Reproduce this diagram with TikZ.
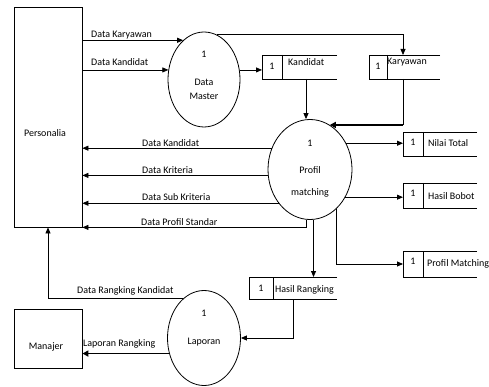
\documentclass[tikz,border=0pt]{standalone}
\usepackage{fontspec}
\setmainfont{Carlito}
\usetikzlibrary{shapes.geometric,arrows.meta}
\tikzset{
  ln/.style={line width=0.8pt},
  arr/.style={ln,-{Triangle[length=6pt,width=5pt]}},
  thickarr/.style={line width=1.5pt,-{Triangle[length=6pt,width=6pt]}},
  proc/.style={ellipse, draw, line width=0.8pt, inner sep=0},
  ent/.style={rectangle, draw, line width=0.8pt, inner sep=0},
  lbl/.style={font=\fontsize{10}{12}\selectfont, inner sep=0},
}
\newcommand{\dstore}[7]{%
  \coordinate (#1-nw) at (#2,#3);
  \coordinate (#1-sw) at (#2,#5);
  \coordinate (#1-ne) at (#4,#3);
  \coordinate (#1-se) at (#4,#5);
  \coordinate (#1-dt) at (#6,#3);
  \coordinate (#1-db) at (#6,#5);
  \coordinate (#1-w) at (#2,{(#3+#5)/2});
  \draw[ln] (#1-ne) -- (#1-nw) -- (#1-sw) -- (#1-se) (#1-dt) -- (#1-db);
  \node[lbl] (#1-n) at ({(#2+#6)/2},#7) {1};
}
\begin{document}
\begin{tikzpicture}[x=1pt,y=-1pt]
\useasboundingbox (0,0) rectangle (489,387);

% external entities
\node[ent, minimum width=68, minimum height=220] (per) at (48,117) {};
\node[lbl] (perl) at (45,133) {Personalia};
\node[ent, minimum width=68, minimum height=59] (man) at (48,338.5) {};
\node[lbl] (manl) at (46,347) {Manajer};

% processes
\node[proc, minimum width=72, minimum height=95] (dm) at (204,79.5) {};
\node[lbl] (dm1) at (204,54) {1};
\node[lbl] (dm2) at (204,82) {Data};
\node[lbl] (dm3) at (204,96) {Master};

\node[proc, minimum width=84, minimum height=100] (pm) at (310,169.5) {};
\node[lbl] (pm1) at (310,143) {1};
\node[lbl] (pm2) at (310,170) {Profil};
\node[lbl] (pm3) at (310,193) {matching};

\node[proc, minimum width=73, minimum height=95] (lap) at (204,338) {};
\node[lbl] (lap1) at (204,313) {1};
\node[lbl] (lap2) at (204,342) {Laporan};

% data stores
\dstore{kand}{262}{55}{337}{79}{282}{66}
\node[lbl,anchor=west] (kandt) at (288,62) {Kandidat};
\dstore{kary}{369}{55}{440}{79}{387}{66}
\node[lbl,anchor=west] (karyt) at (387,62) {Karyawan};
\dstore{nt}{403}{132}{477}{156}{423}{142}
\node[lbl,anchor=west] (ntt) at (428,143) {Nilai Total};
\dstore{hb}{403}{183}{477}{208}{423}{193}
\node[lbl,anchor=west] (hbt) at (428,196) {Hasil Bobot};
\dstore{pmat}{403}{251}{477}{277}{423}{261}
\node[lbl,anchor=west] (pmatt) at (427,264) {Profil Matching};
\dstore{hr}{249}{277}{337}{299}{273}{288}
\node[lbl,anchor=west] (hrt) at (275,290) {Hasil Rangking};

\coordinate (karyin) at (403,55);
\coordinate (kandout) at (306,79);
\coordinate (karyout) at (403,79);
\coordinate (hrout) at (293,299);
\coordinate (karycorner) at (karyout |- pm.66.7);

% flows Personalia -> Data Master
\draw[arr] (per.east |- dm.118.7) -- (dm.118.7);
\node[lbl,anchor=west] (f1) at (91,35) {Data Karyawan};
\draw[arr] (per.east |- dm.165) -- (dm.165);
\node[lbl,anchor=west] (f2) at (91,62) {Data Kandidat};

% Data Master -> stores
\draw[arr] (dm.74.2) -| (karyin);
\draw[arr] (dm.15) -- (dm.15 -| kand-nw);

% stores -> Profil matching
\draw[arr] (kandout) -- (kandout |- pm.north);
\draw[ln] (karyout) -- (karycorner);
\draw[thickarr] (karycorner) -- (pm.66.7);

% Profil matching -> stores
\draw[arr] (pm.36.7) -- (pm.36.7 -| nt-nw);
\draw[arr] (pm.-38.1) -- (pm.-38.1 -| hb-nw);
\draw[arr] (pm.-56.5) |- (pmat-w);
\draw[arr] (pm.-86.6) -- (pm.-86.6 |- hr-nw);

% Profil matching -> Personalia
\draw[arr] (pm.151.8) -- (per.east |- pm.151.8);
\node[lbl,anchor=west] (f3) at (142,143) {Data Kandidat};
\draw[arr] (pm.188.9) -- (per.east |- pm.188.9);
\node[lbl,anchor=west] (f4) at (142,170) {Data Kriteria};
\draw[arr] (pm.227) -- (per.east |- pm.227);
\node[lbl,anchor=west] (f5) at (142,197) {Data Sub Kriteria};
\draw[arr] (pm.-94.6) |- (per.south east);
\node[lbl,anchor=west] (f6) at (141,222) {Data Profil Standar};

% Hasil Rangking -> Laporan
\draw[arr] (hrout) |- (lap.east);

% Laporan outputs
\draw[thickarr] (lap.204.9) -- (lap.204.9 -| man.east);
\node[lbl,anchor=west] (f7) at (83,344) {Laporan Rangking};
\draw[arr] (lap.118.1) -| (per.south);
\node[lbl,anchor=west] (f8) at (77,291) {Data Rangking Kandidat};
\end{tikzpicture}
\end{document}
